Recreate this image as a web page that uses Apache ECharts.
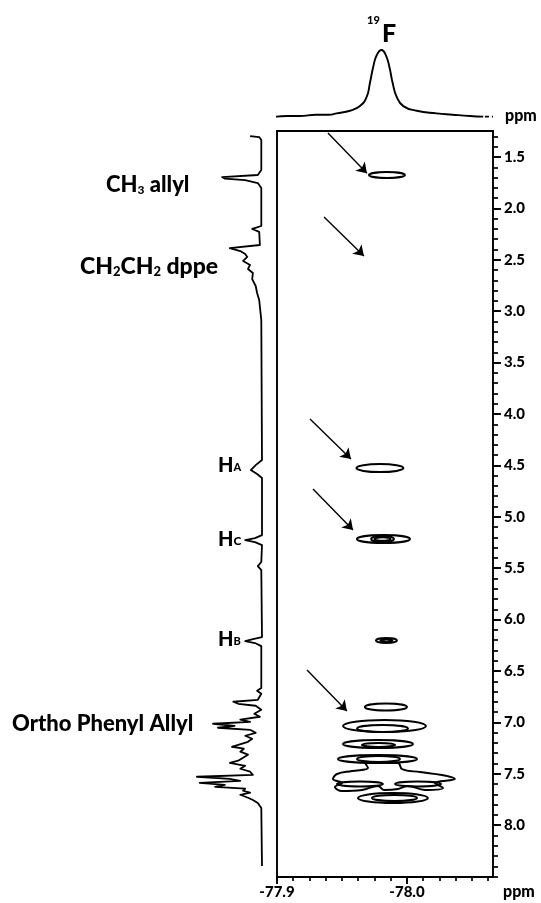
<!DOCTYPE html>
<html><head><meta charset="utf-8">
<script src="https://cdn.jsdelivr.net/npm/echarts@6/dist/echarts.min.js"></script>
<style>html,body{margin:0;padding:0;background:#fff}#c{width:541px;height:903px}</style>
</head><body><div id="c"></div>
<script>
// ---- axis ranges & tick labels ----
const fMin = -78.0662, fMax = -77.9;          // 19F ppm (horizontal)
const hMin = 1.247, hMax = 8.504;             // 1H ppm (vertical)
const fTickLabels = [-77.9, -78.0];
const hTickLabels = [1.5, 2.0, 2.5, 3.0, 3.5, 4.0, 4.5, 5.0, 5.5, 6.0, 6.5, 7.0, 7.5, 8.0];

// ---- 19F 1D projection (ppm, relative intensity) ----
const fPpm = [-77.8992,-77.9077,-77.9177,-77.9300,-77.9400,-77.9459,-77.9562,-77.9638,-77.9690,-77.9715,-77.9741,-77.9767,-77.9805,-77.9838,-77.9864,-77.9890,-77.9921,-77.9972,-78.0075,-78.0228,-78.0350,-78.0485,-78.0587];
const fInt = [-0.01,0.0,0.0,0.02,0.02,0.04,0.08,0.15,0.29,0.5,0.75,0.92,1.0,0.92,0.75,0.5,0.29,0.15,0.08,0.04,0.02,0.0,-0.01];
const fTailPpm = [-78.0600, -78.0662];
const fTailInt = [-0.01, -0.01];

// ---- 1H 1D projection (ppm, relative intensity) ----
const hPpm = [1.296,1.306,1.335,1.627,1.675,1.695,1.710,1.724,1.753,1.802,2.171,2.200,2.229,2.356,2.386,2.415,2.444,2.472,2.511,2.550,2.589,2.628,2.687,2.755,2.823,2.891,3.086,4.448,4.497,4.545,4.584,4.622,5.178,5.207,5.226,5.246,5.275,5.440,5.479,5.518,6.170,6.189,6.209,6.228,6.258,6.665,6.692,6.721,6.780,6.799,6.819,6.838,6.877,6.916,6.945,6.974,6.994,7.013,7.033,7.052,7.072,7.101,7.130,7.159,7.189,7.218,7.237,7.256,7.285,7.314,7.344,7.373,7.393,7.422,7.451,7.480,7.510,7.529,7.549,7.568,7.588,7.607,7.627,7.645,7.665,7.684,7.704,7.733,7.755,7.784,7.833,8.397];
const hInt = [0.17,0.04,0.01,0.01,0.06,0.57,0.53,0.24,0.06,0.01,0.01,0.14,0.04,0.03,0.46,0.31,0.24,0.21,0.27,0.17,0.20,0.13,0.14,0.09,0.07,0.04,0.01,0.0,0.09,0.16,0.07,0.0,0,0.10,0.24,0.10,0,0.01,0.06,0.01,0,0.13,0.24,0.10,0.01,0.01,0.07,0.01,0.06,0.41,0.34,0.09,0.01,0.11,0.03,0.31,0.17,0.70,0.39,0.63,0.17,0.09,0.24,0.14,0.20,0.34,0.43,0.26,0.31,0.20,0.27,0.34,0.46,0.24,0.31,0.17,0.13,0.93,0.46,0.31,0.89,0.53,0.67,0.24,0.27,0.17,0.31,0.20,0.13,0.06,0.01,0];

// ---- 2D contours: centre (19F ppm, 1H ppm), half widths (ppm) ----
const contourX  = [-77.9846,-77.9792,-77.9819,-77.9812,-77.9812,-77.9842,-77.9842,-77.9838,-77.9827,-77.9812,-77.9777,-77.9781,-77.9773,-77.9781,-77.9638,-78.0085,-77.9892,-77.9904];
const contourY  = [1.675,4.526,5.216,5.216,5.216,6.203,6.203,6.851,7.035,7.059,7.210,7.219,7.356,7.356,7.599,7.599,7.735,7.735];
const contourRx = [0.0138,0.0181,0.0204,0.0088,0.0062,0.0081,0.0046,0.0162,0.0319,0.0196,0.0269,0.0127,0.0304,0.0165,0.0177,0.0177,0.0269,0.0173];
const contourRy = [0.029,0.039,0.039,0.029,0.018,0.024,0.012,0.034,0.059,0.034,0.039,0.0195,0.039,0.029,0.024,0.024,0.049,0.029];

// irregular aromatic contour outline (19F ppm, 1H ppm)
const blobX = [-77.9677,-77.9700,-77.9577,-77.9462,-77.9431,-77.9500,-77.9446,-77.9500,-77.9654,-77.9777,-77.9823,-77.9931,-78.0008,-78.0138,-78.0277,-78.0215,-78.0369,-78.0269,-78.0100,-77.9962,-77.9931,-77.9677];
const blobY = [7.395,7.444,7.473,7.502,7.550,7.589,7.628,7.667,7.657,7.618,7.657,7.648,7.618,7.657,7.638,7.589,7.550,7.512,7.483,7.454,7.395,7.395];

// arrows (start -> end) in (19F ppm, 1H ppm)
const arrowFromX = [-77.9392,-77.9362,-77.9254,-77.9277,-77.9231];
const arrowFromY = [1.267,2.083,4.049,4.730,6.491];
const arrowToX   = [-77.9692,-77.9669,-77.9569,-77.9585,-77.9538];
const arrowToY   = [1.659,2.463,4.438,5.129,6.890];

// minor tick positions (axis decoration)
const fMinor = []; for (let i = 0; i <= 13; i++) fMinor.push(+(-77.9 - i * 0.0125).toFixed(4));
const hMinor = []; for (let i = 13; i <= 85; i++) hMinor.push(+(i / 10).toFixed(1));

const FONT = 'Lato';
const W = 900;
const chart = echarts.init(document.getElementById('c'), null, {renderer: 'canvas'});
const zip = (a, b) => a.map((v, i) => [v, b[i]]);

const richLabel = (big, small, lh, pad) => ({
  m: {fontFamily: FONT, fontWeight: W, fontSize: big, lineHeight: lh, verticalAlign: 'bottom'},
  s: {fontFamily: FONT, fontWeight: W, fontSize: small, lineHeight: small, verticalAlign: 'bottom', padding: [0, 0, pad, 0]}
});

const option = {
  animation: false,
  backgroundColor: '#fff',
  grid: [
    {left: 277, top: 131, width: 216, height: 746, show: true, borderColor: '#000', borderWidth: 1.9, backgroundColor: 'transparent'},
    {left: 277, top: 50, width: 216, height: 66},
    {left: 192, top: 131, width: 70, height: 746}
  ],
  xAxis: [
    {gridIndex: 0, type: 'value', min: fMin, max: fMax, inverse: true, position: 'bottom',
     splitLine: {show: false}, axisLine: {show: false},
     axisTick: {show: true, customValues: fTickLabels, length: 7, lineStyle: {color: '#000', width: 1.9}},
     axisLabel: {show: true, customValues: fTickLabels, margin: 8, color: '#000', fontFamily: FONT, fontWeight: W, fontSize: 15,
                 formatter: v => v.toFixed(1)}},
    {gridIndex: 0, type: 'value', min: fMin, max: fMax, inverse: true, position: 'bottom',
     splitLine: {show: false}, axisLine: {show: false}, axisLabel: {show: false},
     axisTick: {show: true, customValues: fMinor, length: 4, lineStyle: {color: '#000', width: 1.7}}},
    {gridIndex: 1, type: 'value', min: fMin, max: fMax, inverse: true, show: false},
    {gridIndex: 2, type: 'value', min: 0, max: 1, inverse: true, show: false}
  ],
  yAxis: [
    {gridIndex: 0, type: 'value', min: hMin, max: hMax, inverse: true, position: 'right',
     splitLine: {show: false}, axisLine: {show: false},
     axisTick: {show: true, customValues: hTickLabels, length: 8, lineStyle: {color: '#000', width: 1.9}},
     axisLabel: {show: true, customValues: hTickLabels, margin: 11, color: '#000', fontFamily: FONT, fontWeight: W, fontSize: 15,
                 formatter: v => v.toFixed(1)}},
    {gridIndex: 0, type: 'value', min: hMin, max: hMax, inverse: true, position: 'right',
     splitLine: {show: false}, axisLine: {show: false}, axisLabel: {show: false},
     axisTick: {show: true, customValues: hMinor, length: 5, lineStyle: {color: '#000', width: 1.7}}},
    {gridIndex: 1, type: 'value', min: 0, max: 1, show: false},
    {gridIndex: 2, type: 'value', min: hMin, max: hMax, inverse: true, show: false}
  ],
  series: [
    {type: 'custom', xAxisIndex: 0, yAxisIndex: 0, silent: true,
     data: contourX.map((x, i) => [x, contourY[i], contourRx[i], contourRy[i]]),
     renderItem: (params, api) => {
       const c = api.coord([api.value(0), api.value(1)]);
       const s = api.size([api.value(2), api.value(3)]);
       return {type: 'ellipse', shape: {cx: c[0], cy: c[1], rx: Math.abs(s[0]), ry: Math.abs(s[1])},
               style: {fill: 'none', stroke: '#000', lineWidth: 2}};
     }},
    {type: 'line', xAxisIndex: 0, yAxisIndex: 0, data: zip(blobX, blobY), smooth: 0.4, symbol: 'none', clip: false,
     lineStyle: {color: '#000', width: 2}},
    {type: 'lines', coordinateSystem: 'cartesian2d', xAxisIndex: 0, yAxisIndex: 0, silent: true,
     symbol: ['none', 'arrow'], symbolSize: [0, 10],
     lineStyle: {color: '#000', width: 1.4, opacity: 1},
     data: arrowFromX.map((x, i) => ({coords: [[x, arrowFromY[i]], [arrowToX[i], arrowToY[i]]]}))},
    {type: 'line', xAxisIndex: 2, yAxisIndex: 2, data: zip(fPpm, fInt), smooth: 0.5, symbol: 'none', clip: false,
     lineStyle: {color: '#000', width: 1.9}},
    {type: 'line', xAxisIndex: 2, yAxisIndex: 2, data: zip(fTailPpm, fTailInt), symbol: 'none', clip: false,
     lineStyle: {color: '#000', width: 1.9, type: [4, 3]}},
    {type: 'line', xAxisIndex: 3, yAxisIndex: 3, data: zip(hInt, hPpm), symbol: 'none', clip: false,
     lineStyle: {color: '#000', width: 1.8, join: 'round'}}
  ],
  graphic: [
    {type: 'text', x: 106, y: 173,
     style: {text: '{m|CH}{s|3}{m| allyl}', fill: '#000', verticalAlign: 'top', textVerticalAlign: 'top', rich: richLabel(22, 12, 23, 0)}},
    {type: 'text', x: 80, y: 254,
     style: {text: '{m|CH}{s|2}{m|CH}{s|2}{m| dppe}', fill: '#000', verticalAlign: 'top', textVerticalAlign: 'top', rich: richLabel(23, 13, 24, 0)}},
    {type: 'text', x: 218, y: 455,
     style: {text: '{m|H}{s|A}', fill: '#000', verticalAlign: 'top', textVerticalAlign: 'top', rich: richLabel(20, 11, 21, 3)}},
    {type: 'text', x: 218, y: 529,
     style: {text: '{m|H}{s|C}', fill: '#000', verticalAlign: 'top', textVerticalAlign: 'top', rich: richLabel(20, 12, 21, 3)}},
    {type: 'text', x: 218, y: 629,
     style: {text: '{m|H}{s|B}', fill: '#000', verticalAlign: 'top', textVerticalAlign: 'top', rich: richLabel(20, 11, 21, 3)}},
    {type: 'text', x: 12, y: 713,
     style: {text: 'Ortho Phenyl Allyl', fill: '#000', fontFamily: FONT, fontWeight: W, fontSize: 22, verticalAlign: 'top', textVerticalAlign: 'top'}},
    {type: 'text', x: 367, y: 15,
     style: {text: '19', fill: '#000', fontFamily: FONT, fontWeight: W, fontSize: 11, verticalAlign: 'top', textVerticalAlign: 'top'}},
    {type: 'text', x: 382, y: 21,
     style: {text: 'F', fill: '#000', fontFamily: FONT, fontWeight: W, fontSize: 25, verticalAlign: 'top', textVerticalAlign: 'top'}},
    {type: 'text', x: 505, y: 108,
     style: {text: 'ppm', fill: '#000', fontFamily: FONT, fontWeight: W, fontSize: 16, verticalAlign: 'top', textVerticalAlign: 'top'}},
    {type: 'text', x: 503, y: 884,
     style: {text: 'ppm', fill: '#000', fontFamily: FONT, fontWeight: W, fontSize: 16, verticalAlign: 'top', textVerticalAlign: 'top'}}
  ]
};
chart.setOption(option);
</script>
</body></html>
